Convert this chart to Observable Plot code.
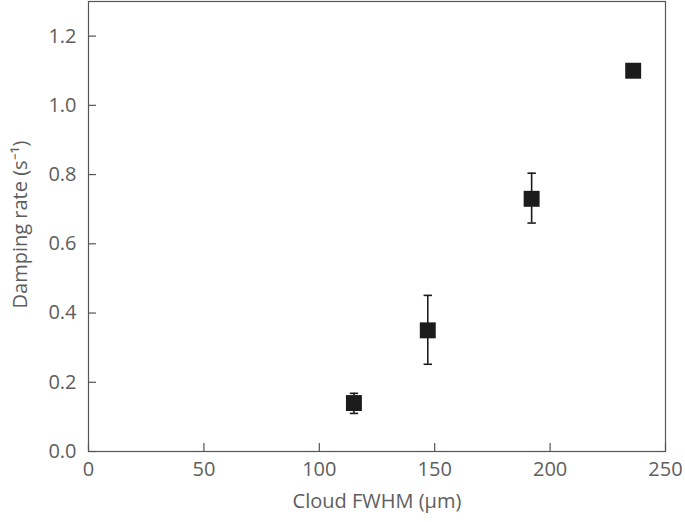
<!DOCTYPE html>
<html>
<head>
<meta charset="utf-8">
<script src="https://cdn.jsdelivr.net/npm/d3@7"></script>
<script src="https://cdn.jsdelivr.net/npm/@observablehq/plot@0.6"></script>
<style>
  html, body { margin: 0; padding: 0; background: #fff; }
  svg { display: block; }
</style>
</head>
<body>
<div id="chart"></div>
<script>
// Data
const fwhm = [115, 147, 192, 236];            // Cloud FWHM (µm)
const rate = [0.14, 0.35, 0.73, 1.10];        // Damping rate (s^-1)
const errLo = [0.11, 0.252, 0.66, 1.085];
const errHi = [0.168, 0.451, 0.804, 1.115];

const xTicks = [0, 50, 100, 150, 200, 250];
const yTicks = [0.0, 0.2, 0.4, 0.6, 0.8, 1.0, 1.2];

const xLabel = "Cloud FWHM (μm)";
const yLabel = "Damping rate (s⁻¹)";

const data = fwhm.map((x, i) => ({x, y: rate[i], lo: errLo[i], hi: errHi[i]}));

const axisColor = "#555";
const textColor = "#5e5e5e";
const ink = "#1c1c1c";

const capSymbol = {
  draw(ctx, size) {
    const r = Math.sqrt(size / Math.PI);
    ctx.moveTo(-r, 0);
    ctx.lineTo(r, 0);
  }
};

const W = 685, H = 522;
const mL = 88, mR = 20, mT = 1, mB = 71;
const innerW = W - mL - mR, innerH = H - mT - mB;
const tickLen = 8;

const chart = Plot.plot({
  width: W,
  height: H,
  marginLeft: mL,
  marginRight: mR,
  marginTop: mT,
  marginBottom: mB,
  style: {fontFamily: "'Open Sans', sans-serif", fontSize: "20px", color: textColor, background: "#fff"},
  x: {domain: [0, 250]},
  y: {domain: [0, 1.3]},
  marks: [
    Plot.frame({stroke: axisColor, strokeWidth: 1.2}),
    // inward ticks
    Plot.tickX(xTicks, {x: d => d, stroke: axisColor, strokeWidth: 1.2, insetTop: innerH - tickLen}),
    Plot.tickY(yTicks, {y: d => d, stroke: axisColor, strokeWidth: 1.2, insetRight: innerW - tickLen}),
    Plot.axisX(xTicks, {tickSize: 0, tickPadding: 10, fontSize: 20, fill: textColor, label: null, tickFormat: d => String(d)}),
    Plot.axisY(yTicks, {tickSize: 0, tickPadding: 12, fontSize: 20, fill: textColor, label: null, tickFormat: d3.format(".1f")}),
    // axis titles
    Plot.text([xLabel], {frameAnchor: "bottom", dy: 56, text: d => d, fontSize: 20, fill: textColor}),
    Plot.text([yLabel], {frameAnchor: "left", textAnchor: "middle", dx: -68, dy: -2, rotate: -90, text: d => d, fontSize: 20, fill: textColor}),
    // error bars
    Plot.ruleX(data, {x: "x", y1: "lo", y2: "hi", stroke: ink, strokeWidth: 1.6}),
    Plot.dot(data, {x: "x", y: "hi", symbol: capSymbol, r: 4.2, stroke: ink, strokeWidth: 1.6}),
    Plot.dot(data, {x: "x", y: "lo", symbol: capSymbol, r: 4.2, stroke: ink, strokeWidth: 1.6}),
    // markers
    Plot.dot(data, {x: "x", y: "y", symbol: "square", r: 9, fill: ink, stroke: "none"})
  ]
});

document.getElementById("chart").appendChild(chart);
</script>
</body>
</html>
